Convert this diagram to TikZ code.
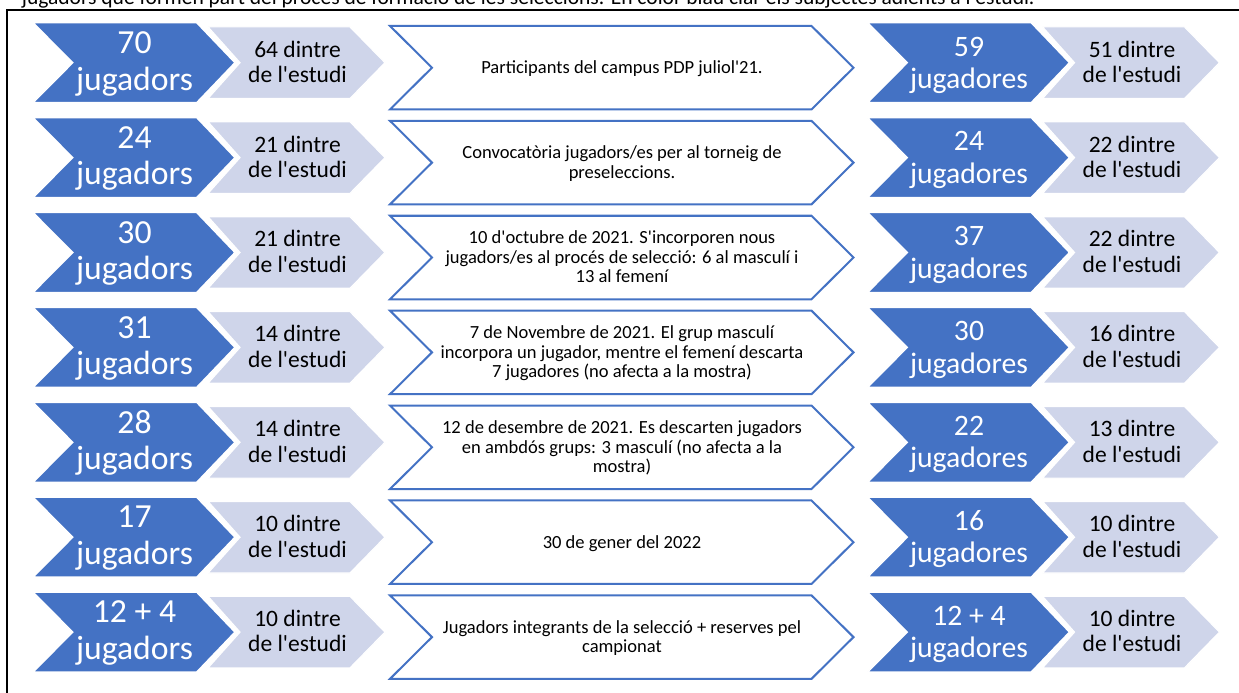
\documentclass[tikz,border=0pt]{standalone}
\usepackage{fontspec}
\setmainfont{Carlito}[Ligatures=TeXOff]
\definecolor{accentblue}{HTML}{4472C4}
\definecolor{paleblue}{HTML}{CFD5EA}

\tikzset{
  darkchev/.style={fill=accentblue, draw=white, line width=1.5bp, line join=miter},
  lightchev/.style={fill=paleblue, draw=white, line width=1.2bp, line join=miter},
  eventchev/.style={fill=white, draw=accentblue, line width=2bp, line join=miter},
  counttext/.style={text=white, font=\fontsize{33.8}{36.8}\selectfont, align=center, anchor=base, inner sep=0pt},
  countsmall/.style={text=white, font=\fontsize{29.8}{32.4}\selectfont, align=center, anchor=base, inner sep=0pt},
  studytext/.style={text=black, font=\fontsize{23.6}{25.4}\selectfont, align=center, anchor=base, inner sep=0pt},
  eventtext/.style={text=black, font=\fontsize{18.6}{19.6}\selectfont, align=center, anchor=base, inner sep=0pt},
  captiontext/.style={text=black, font=\fontsize{21.6}{23}\selectfont, anchor=base west, inner sep=0pt},
}

% One row of the timeline (multi-line nodes are anchored at the baseline of their last line):
% #1 row index, #2 players before, #3 studied before, #4 event, #5 number of event lines,
% #6 players after, #7 studied after
\newcommand\chevronrow[7]{%
  \pgfmathsetmacro\rc{62.7+94.9*#1}%
  \pgfmathsetmacro\ec{\rc+5}%
  \pgfmathsetmacro\eb{\ec+5.8+(#5-1)*9.8}%
  % left pair
  \path[lightchev] (208,\rc-35.8) -- (350,\rc-35.8) -- (385,\rc) -- (350,\rc+35.8) -- (208,\rc+35.8) -- (240,\rc) -- cycle;
  \path[darkchev] (33,\rc-40) -- (196.7,\rc-40) -- (235,\rc) -- (196.7,\rc+40) -- (33,\rc+40) -- (72.7,\rc) -- cycle;
  \node[counttext] (before#1) at (134.5,\rc+27.4) {#2};
  \node[studytext] (studbefore#1) at (297.5,\rc+19.8) {#3 dintre\\de l'estudi};
  % event
  \path[eventchev] (390,\ec-41.75) -- (811.5,\ec-41.75) -- (853.5,\ec) -- (811.5,\ec+41.75) -- (390,\ec+41.75) -- (432,\ec) -- cycle;
  \node[eventtext] (event#1) at (622,\eb) {#4};
  % right pair
  \path[lightchev] (1042.5,\rc-35.8) -- (1184.5,\rc-35.8) -- (1219.5,\rc) -- (1184.5,\rc+35.8) -- (1042.5,\rc+35.8) -- (1074.5,\rc) -- cycle;
  \path[darkchev] (867.5,\rc-40) -- (1031.2,\rc-40) -- (1069.5,\rc) -- (1031.2,\rc+40) -- (867.5,\rc+40) -- (907.2,\rc) -- cycle;
  \node[countsmall] (after#1) at (969,\rc+25.6) {#6};
  \node[studytext] (studafter#1) at (1132,\rc+19.8) {#7 dintre\\de l'estudi};
}

\begin{document}
\begin{tikzpicture}[x=1bp, y=-1bp]
  \useasboundingbox (0,0) rectangle (1239,693);
  \clip (0,0) rectangle (1239,693);
  \fill[white] (0,0) rectangle (1239,693);

  % caption line above the frame
  \node[captiontext] (caption) at (21.7,4.5) {jugadors que formen part del procés de formació de les seleccions. En color blau clar els subjectes adients a l'estudi.};

  % frame
  \draw[black, line width=2bp] (1245,10) -- (7.3,10) -- (7.3,700);

  \chevronrow{0}{70\\jugadors}{64}{Participants del campus PDP juliol'21.}{1}{59\\jugadores}{51}
  \chevronrow{1}{24\\jugadors}{21}{Convocatòria jugadors/es per al torneig de\\preseleccions.}{2}{24\\jugadores}{22}
  \chevronrow{2}{30\\jugadors}{21}{10 d'octubre de 2021. S'incorporen nous\\jugadors/es al procés de selecció: 6 al masculí i\\13 al femení}{3}{37\\jugadores}{22}
  \chevronrow{3}{31\\jugadors}{14}{7 de Novembre de 2021. El grup masculí\\incorpora un jugador, mentre el femení descarta\\7 jugadores (no afecta a la mostra)}{3}{30\\jugadores}{16}
  \chevronrow{4}{28\\jugadors}{14}{12 de desembre de 2021. Es descarten jugadors\\en ambdós grups: 3 masculí (no afecta a la\\mostra)}{3}{22\\jugadores}{13}
  \chevronrow{5}{17\\jugadors}{10}{30 de gener del 2022}{1}{16\\jugadores}{10}
  \chevronrow{6}{12 + 4\\jugadors}{10}{Jugadors integrants de la selecció + reserves pel\\campionat}{2}{12 + 4\\jugadores}{10}
\end{tikzpicture}
\end{document}
